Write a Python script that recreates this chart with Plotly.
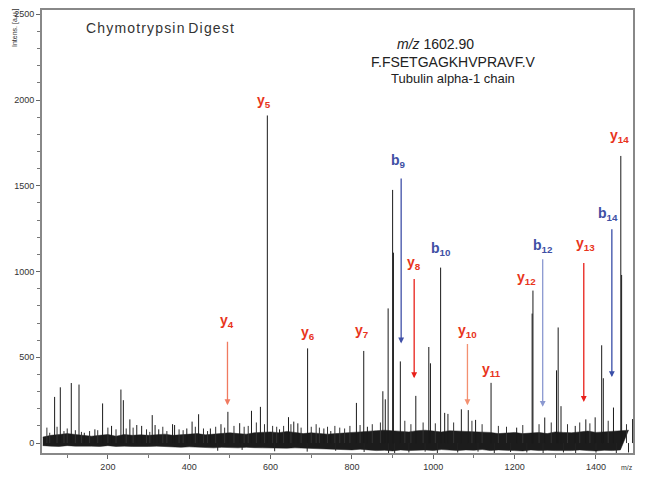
import plotly.graph_objects as go

# ---------------- data ----------------
peak_mz = [69, 83, 110, 129, 142, 168, 187, 209, 232, 238, 254, 271, 283, 309, 316, 325,
           359, 364, 394, 407, 423, 452, 478, 495, 524, 553, 575, 592, 622, 644, 657, 667,
           691, 731, 748, 811, 829, 838, 876, 882, 889, 900, 902, 919, 957, 989, 993, 1018,
           1028, 1036, 1069, 1086, 1104, 1142, 1205, 1243, 1245, 1274, 1303, 1307, 1314,
           1349, 1375, 1398, 1414, 1418, 1443, 1461, 1463, 1490]
peak_int = [269, 325, 350, 341, 60, 80, 231, 100, 312, 250, 138, 105, 100, 163, 105, 80,
            110, 105, 85, 125, 168, 85, 110, 182, 116, 188, 211, 1910, 80, 151, 125, 115,
            552, 85, 70, 234, 537, 95, 302, 255, 785, 1476, 1110, 476, 275, 560, 465, 1023,
            176, 170, 197, 192, 135, 351, 90, 755, 889, 149, 424, 674, 215,
            100, 138, 150, 570, 378, 207, 1674, 980, 140]

minor_mz = [50, 57, 75, 92, 100, 120, 135, 155, 175, 200, 220, 245, 262, 295, 303, 335, 345,
            375, 385, 415, 435, 445, 465, 487, 510, 535, 545, 565, 585, 605, 615, 632, 650,
            675, 700, 712, 720, 740, 758, 770, 782, 795, 820, 850, 870, 930, 945, 975, 1005,
            1050, 1095, 1120, 1160, 1180, 1220, 1260, 1290, 1330, 1360, 1385, 1430, 1475]
minor_int = [90, 60, 95, 70, 85, 75, 65, 70, 75, 90, 80, 85, 90, 80, 65, 95, 70,
             80, 75, 95, 85, 70, 95, 90, 100, 95, 100, 120, 110, 100, 95, 100, 110,
             90, 95, 110, 90, 95, 100, 90, 85, 100, 105, 110, 120, 130, 110, 120, 115,
             120, 130, 110, 100, 95, 105, 110, 120, 110, 120, 115, 130, 110]

dip_mz = [470, 530, 610, 690, 760, 830, 890, 905, 940, 980, 1010, 1060, 1110, 1150, 1190,
          1230, 1270, 1320, 1350, 1400, 1450, 1480]
dip_int = [-45, -40, -48, -50, -45, -52, -58, -58, -55, -50, -58, -55, -50, -58, -52,
           -55, -58, -55, -58, -56, -58, -55]

noise_mz = list(range(40, 1500, 20))
noise_upper = [35, 45, 50, 55, 50, 45, 40, 45, 50, 40, 50, 45, 48, 45, 50, 52, 45, 48, 52,
               55, 48, 52, 55, 60, 55, 52, 60, 62, 65, 60, 68, 62, 55, 60, 55, 52, 55, 60,
               62, 65, 70, 72, 75, 72, 70, 65, 72, 75, 70, 65, 72, 70, 65, 62, 60, 62,
               55, 60, 62, 55, 60, 62, 55, 65, 62, 60, 65, 70, 62, 65, 70, 72, 75, 75]
noise_lower = [-15, -18, -15, -18, -20, -15, -18, -20, -18, -20, -15, -20, -18, -20, -22,
               -20, -18, -20, -22, -25, -22, -25, -26, -28, -25, -26, -28, -25, -27, -28,
               -26, -28, -30, -28, -32, -30, -32, -34, -36, -38, -40, -36, -40, -44, -42,
               -46, -40, -44, -42, -40, -44, -38, -42, -44, -40, -42, -38, -44, -40, -42,
               -44, -46, -40, -44, -42, -44, -46, -44, -40, -44, -46, -42, -44, -40]

ion_names = ["y<sub>4</sub>", "y<sub>5</sub>", "y<sub>6</sub>", "y<sub>7</sub>", "b<sub>9</sub>",
             "y<sub>8</sub>", "b<sub>10</sub>", "y<sub>10</sub>", "y<sub>11</sub>", "y<sub>12</sub>",
             "b<sub>12</sub>", "y<sub>13</sub>", "b<sub>14</sub>", "y<sub>14</sub>"]
ion_mz = [494, 592, 691, 829, 921, 953, 1018, 1084, 1142, 1245, 1269, 1370, 1439, 1461]
ion_type = ["y", "y", "y", "y", "b", "y", "b", "y", "y", "y", "b", "y", "b", "y"]

x_ticks = [200, 400, 600, 800, 1000, 1200, 1400]
y_ticks = [0, 500, 1000, 1500, 2000, 2500]

# ---------------- layout helpers ----------------
# the page body carries an 8px default margin, so the figure is sized to fit the window
OFF = 8
W, H = 648 - OFF, 478 - OFF
PL, PR, PT, PB = 42, 633, 10, 453          # plot area in window pixels
L, R, T, B = PL - OFF, (W + OFF) - PR, PT - OFF, (H + OFF) - PB
XR = [38, 1491]
YR = [-58, 2525]

RED = "#e8341c"
BLUE = "#3e50a4"

fig = go.Figure()

# noise band
fig.add_trace(go.Scatter(
    x=noise_mz + noise_mz[::-1],
    y=noise_upper + noise_lower[::-1],
    fill="toself", fillcolor="#1c1c1c", mode="lines",
    line=dict(color="#1c1c1c", width=0.5), hoverinfo="skip", showlegend=False))


def sticks(mz, inten):
    xs, ys = [], []
    for m, h in zip(mz, inten):
        xs += [m, m, None]
        ys += [0, h, None]
    return xs, ys


xs, ys = sticks(dip_mz, dip_int)
fig.add_trace(go.Scatter(x=xs, y=ys, mode="lines", line=dict(color="#222222", width=1),
                         hoverinfo="skip", showlegend=False))
xs, ys = sticks(minor_mz, minor_int)
fig.add_trace(go.Scatter(x=xs, y=ys, mode="lines", line=dict(color="#333333", width=1),
                         hoverinfo="skip", showlegend=False))
xs, ys = sticks(peak_mz, peak_int)
fig.add_trace(go.Scatter(x=xs, y=ys, mode="lines", line=dict(color="#1a1a1a", width=1),
                         hoverinfo="skip", showlegend=False))

# ion labels and arrows (tail intensity, tip intensity, colour)
label_h = [709, 1994, 640, 651, 1645, 1047, 1134, 651, 424, 965, 1151, 1163, 1337, 1791]
label_dx = [0, -9, 0, -4, -7, 0, 2, 0, 1, -15, 0, 3, -10, -4]
arrows = {
    0: (599, 221, "#f07a60"),
    4: (1552, 581, "#4050a8"),
    5: (965, 378, "#e8201a"),
    7: (587, 221, "#f39070"),
    10: (1081, 211, "#8a98d0"),
    11: (1058, 240, "#e8201a"),
    12: (1256, 385, "#3a4fa8"),
}

for i, (name, m, t) in enumerate(zip(ion_names, ion_mz, ion_type)):
    fig.add_annotation(x=m + label_dx[i], y=label_h[i], text="<b>" + name + "</b>",
                       showarrow=False, xref="x", yref="y", xanchor="center", yanchor="middle",
                       font=dict(family="Liberation Sans, Arial, sans-serif", size=14,
                                 color=RED if t == "y" else BLUE))
    if i in arrows:
        tail, tip, col = arrows[i]
        fig.add_annotation(x=m, y=tip, ax=m, ay=tail, axref="x", ayref="y",
                           xref="x", yref="y", text="", showarrow=True,
                           arrowhead=2, arrowsize=0.9, arrowwidth=1.3, arrowcolor=col,
                           standoff=0, startstandoff=0)


def px(xp):
    return (xp - PL) / (PR - PL)


def py(yp):
    return (PB - yp) / (PB - PT)


TXT = "#333333"


def paper_text(x, y, text, size, color=TXT, family="Liberation Sans, Arial", angle=0):
    fig.add_annotation(x=px(x), y=py(y), xref="paper", yref="paper", text=text,
                       showarrow=False, xanchor="center", yanchor="middle",
                       textangle=angle, font=dict(family=family, size=size, color=color))


paper_text(160, 28, "C\u200ah\u200ay\u200am\u200ao\u200at\u200ar\u200ay\u200ap\u200as\u200ai\u200an D\u200ai\u200ag\u200ae\u200as\u200at", 14)
paper_text(435, 44, "<i>m/z</i> 1602.90", 14, "#222222")
paper_text(453, 62, "F.FSETGAGKHVPRAVF.V", 14, "#222222")
paper_text(453, 78, "Tubulin alpha-1 chain", 13, "#222222")
paper_text(627, 467, "m/z", 7, TXT, "Liberation Sans Narrow, Liberation Sans, Arial")
paper_text(15, 28, "Intens. [a.u.]", 7, TXT, "Liberation Sans Narrow, Liberation Sans, Arial", -90)

axis_font = dict(family="Liberation Sans Narrow, Liberation Sans, Arial", size=9, color="#333333")
fig.update_xaxes(range=XR, tickvals=x_ticks, ticktext=[str(v) for v in x_ticks],
                 ticks="outside", ticklen=4, tickcolor="#666666", tickwidth=1,
                 minor=dict(dtick=100, tick0=0, ticks="outside", ticklen=3, tickcolor="#777777"),
                 showline=True, linecolor="#888888", linewidth=1.5, mirror=True,
                 showgrid=False, zeroline=False, tickfont=axis_font, automargin=False)
fig.update_yaxes(range=YR, tickvals=y_ticks, ticktext=[str(v) for v in y_ticks],
                 ticks="outside", ticklen=4, tickcolor="#666666", tickwidth=1,
                 minor=dict(dtick=100, tick0=0, ticks="outside", ticklen=3, tickcolor="#777777"),
                 showline=True, linecolor="#888888", linewidth=2, mirror=True,
                 showgrid=False, zeroline=False, tickfont=axis_font, automargin=False)

fig.update_layout(width=W, height=H, margin=dict(l=L, r=R, t=T, b=B, pad=0, autoexpand=False),
                  plot_bgcolor="white", paper_bgcolor="white", showlegend=False)

fig.write_html("out.html")
